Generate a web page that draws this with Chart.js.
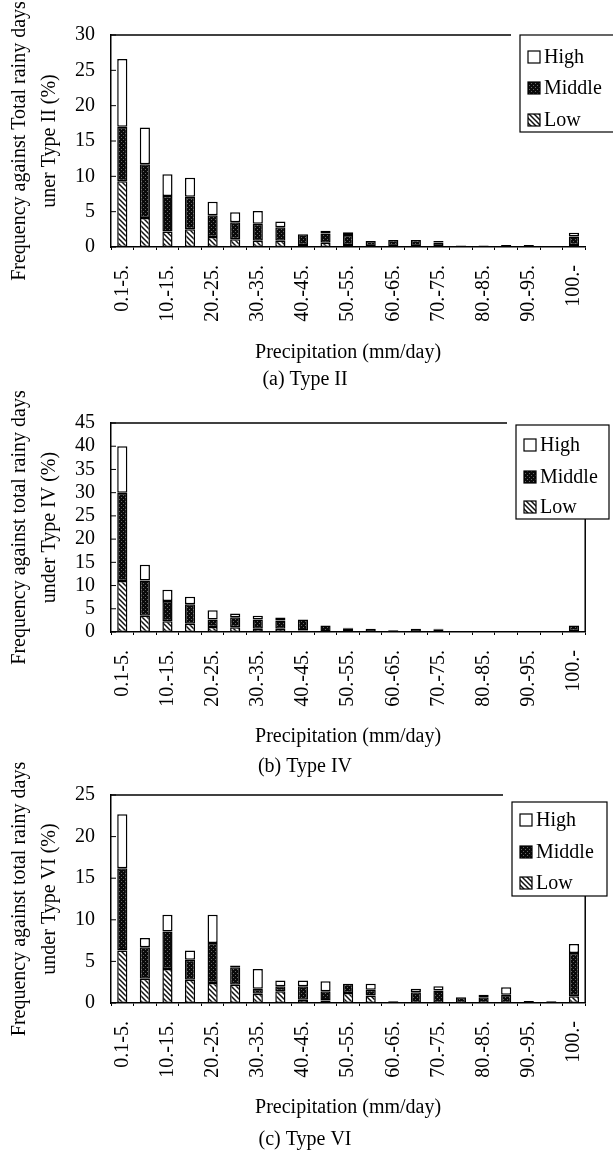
<!DOCTYPE html>
<html>
<head>
<meta charset="utf-8">
<script src="https://cdn.jsdelivr.net/npm/chart.js@4.4.1/dist/chart.umd.min.js"></script>
<style>
  body { margin: 0; background: #fff; }
  .painel { position: absolute; left: 0; }
</style>
</head>
<body>
<canvas id="chartA" class="painel" width="613" height="390" style="top:0px"></canvas>
<canvas id="chartB" class="painel" width="613" height="400" style="top:380px"></canvas>
<canvas id="chartC" class="painel" width="613" height="416" style="top:740px"></canvas>
<script>
// categorias de precipitação (mm/day)
const categorias = ['0.1-5.', '5.-10.', '10.-15.', '15.-20.', '20.-25.', '25.-30.', '30.-35.',
  '35.-40.', '40.-45.', '45.-50.', '50.-55.', '55.-60.', '60.-65.', '65.-70.', '70.-75.',
  '75.-80.', '80.-85.', '85.-90.', '90.-95.', '95.-100.', '100.-'];

// (a) Type II
const lowII  = [9.3, 4.1, 2.2, 2.5, 1.4, 1.1, 0.9, 0.9, 0.3, 0.6, 0.3, 0.1, 0.1, 0.1, 0.1, 0, 0, 0, 0, 0, 0.3];
const midII  = [7.7, 7.6, 5.0, 4.6, 3.1, 2.4, 2.4, 1.9, 1.5, 1.3, 1.4, 0.75, 0.9, 0.9, 0.55, 0.2, 0.2, 0.3, 0.3, 0.15, 1.2];
const highII = [9.6, 5.2, 3.1, 2.7, 1.9, 1.4, 1.8, 0.8, 0, 0.4, 0.4, 0, 0, 0, 0.2, 0, 0, 0, 0, 0, 0.5];

// (b) Type IV
const lowIV  = [11, 3.5, 2.3, 1.8, 1.1, 1.0, 0.7, 0.7, 0.3, 0.1, 0.1, 0, 0, 0, 0, 0, 0, 0, 0, 0, 0.2];
const midIV  = [19, 7.6, 4.4, 4.2, 1.6, 2.2, 2.0, 1.8, 2.4, 1.3, 0.6, 0.7, 0.4, 0.7, 0.6, 0.2, 0.15, 0.1, 0.15, 0.2, 1.2];
const highIV = [10, 3.4, 2.4, 1.6, 2.0, 0.8, 0.8, 0.6, 0, 0, 0.2, 0, 0, 0, 0.1, 0, 0, 0, 0, 0, 0];

// (c) Type VI
const lowVI  = [6.3, 2.9, 4.1, 2.8, 2.4, 2.2, 1.1, 1.4, 0.4, 0.3, 1.2, 0.9, 0, 0, 0, 0, 0, 0, 0, 0, 0.8];
const midVI  = [9.9, 3.8, 4.5, 2.4, 4.8, 2.1, 0.6, 0.6, 1.6, 1.1, 1.1, 0.7, 0.2, 1.3, 1.5, 0.7, 0.7, 1.0, 0.25, 0.2, 5.2];
const highVI = [6.5, 1.1, 2.0, 1.1, 3.4, 0.2, 2.4, 0.7, 0.7, 1.2, 0, 0.7, 0, 0.4, 0.5, 0, 0.3, 0.9, 0, 0, 1.1];

const FONTE = "'Liberation Serif', 'Times New Roman', serif";

// padrão hachurado (Low)
function padraoHachura(ctx) {
  const c = document.createElement('canvas');
  c.width = 5; c.height = 5;
  const g = c.getContext('2d');
  g.fillStyle = '#fff';
  g.fillRect(0, 0, 5, 5);
  g.strokeStyle = '#111';
  g.lineWidth = 1.5;
  g.beginPath();
  g.moveTo(0, 0); g.lineTo(5, 5);
  g.moveTo(-1, 4); g.lineTo(1, 6);
  g.moveTo(4, -1); g.lineTo(6, 1);
  g.stroke();
  return ctx.createPattern(c, 'repeat');
}

// padrão pontilhado escuro (Middle)
function padraoPontos(ctx) {
  const c = document.createElement('canvas');
  c.width = 4; c.height = 4;
  const g = c.getContext('2d');
  g.fillStyle = '#0a0a0a';
  g.fillRect(0, 0, 4, 4);
  g.fillStyle = '#666';
  g.fillRect(1, 1, 1, 1);
  g.fillRect(3, 3, 1, 1);
  return ctx.createPattern(c, 'repeat');
}

// legenda com moldura, bordas do gráfico e marcas internas do eixo y
const molduraPlugin = {
  id: 'moldura',
  afterDraw(chart, args, opts) {
    const ctx = chart.ctx;
    const area = chart.chartArea;
    ctx.save();
    ctx.strokeStyle = '#000';
    ctx.lineWidth = 1.5;
    // linha superior (termina antes da legenda)
    ctx.beginPath();
    ctx.moveTo(area.left, area.top);
    ctx.lineTo(opts.left - 9, area.top);
    ctx.stroke();
    // marcas do eixo y
    const y = chart.scales.y;
    ctx.lineWidth = 1;
    y.ticks.forEach((t, i) => {
      const py = y.getPixelForTick(i);
      ctx.beginPath();
      ctx.moveTo(area.left, py);
      ctx.lineTo(area.left + 5, py);
      ctx.stroke();
    });
    // borda direita
    if (opts.bordaDireita) {
      ctx.lineWidth = 1.5;
      ctx.beginPath();
      ctx.moveTo(area.right, opts.top + opts.h);
      ctx.lineTo(area.right, area.bottom);
      ctx.stroke();
    }
    // caixa da legenda
    ctx.fillStyle = '#fff';
    ctx.fillRect(opts.left, opts.top, opts.w, opts.h);
    ctx.lineWidth = 1.2;
    ctx.strokeRect(opts.left, opts.top, opts.w, opts.h);
    const itens = chart.data.datasets.slice().reverse();
    ctx.font = '20px ' + FONTE;
    ctx.textBaseline = 'middle';
    itens.forEach((ds, i) => {
      const cy = opts.top + opts.linhas[i];
      ctx.fillStyle = ds.backgroundColor;
      ctx.fillRect(opts.left + 8, cy - 6, 12, 12);
      ctx.lineWidth = 1.2;
      ctx.strokeStyle = '#000';
      ctx.strokeRect(opts.left + 8, cy - 6, 12, 12);
      ctx.fillStyle = '#000';
      ctx.fillText(ds.label, opts.left + 24, cy + 1);
    });
    ctx.restore();
  }
};

function criarGrafico(id, low, mid, high, yMax, yTitulo, legenda, geo) {
  const canvas = document.getElementById(id);
  const ctx = canvas.getContext('2d');
  const estilo = { borderColor: '#000', borderWidth: 1.5, borderSkipped: false,
                   barPercentage: 0.45, categoryPercentage: 1.0 };
  return new Chart(ctx, {
    type: 'bar',
    data: {
      labels: categorias,
      datasets: [
        Object.assign({ label: 'Low', data: low, backgroundColor: padraoHachura(ctx) }, estilo),
        Object.assign({ label: 'Middle', data: mid, backgroundColor: padraoPontos(ctx) }, estilo),
        Object.assign({ label: 'High', data: high, backgroundColor: '#fff' }, estilo)
      ]
    },
    options: {
      responsive: false,
      animation: false,
      layout: { padding: { top: geo.top, right: 3, left: 0, bottom: 0 } },
      scales: {
        x: {
          stacked: true,
          grid: { drawOnChartArea: false, tickLength: 3, color: '#000' },
          border: { display: true, color: '#000', width: 1.5 },
          ticks: {
            autoSkip: false,
            minRotation: 90,
            maxRotation: 90,
            padding: 15,
            color: '#000',
            font: { family: FONTE, size: 20 },
            callback: function(valor, indice) {
              return indice % 2 === 0 ? categorias[indice] : '';
            }
          },
          title: {
            display: true,
            text: 'Precipitation (mm/day)',
            color: '#000',
            font: { family: FONTE, size: 20, lineHeight: 1.0 },
            padding: { top: 0, bottom: geo.xPad }
          },
          afterFit: function(scale) { scale.height = geo.xAltura; }
        },
        y: {
          stacked: true,
          min: 0,
          max: yMax,
          grid: { display: false, drawTicks: false },
          border: { display: true, color: '#000', width: 1.5 },
          ticks: {
            stepSize: 5,
            autoSkip: false,
            padding: 16,
            color: '#000',
            font: { family: FONTE, size: 20 }
          },
          title: {
            display: true,
            text: yTitulo,
            color: '#000',
            font: { family: FONTE, size: 20, lineHeight: 1.5 },
            padding: { top: 5, bottom: 0 }
          },
          afterFit: function(scale) { scale.width = 111; }
        }
      },
      plugins: {
        legend: { display: false },
        tooltip: { enabled: false },
        title: {
          display: true,
          position: 'bottom',
          text: legenda,
          color: '#000',
          font: { family: FONTE, size: 20, weight: 'normal', lineHeight: 1.0 },
          padding: { top: 0, bottom: geo.capPad }
        },
        moldura: geo.legenda
      }
    },
    plugins: [molduraPlugin]
  });
}

criarGrafico('chartA', lowII, midII, highII, 30,
  ['Frequency against Total rainy days', 'uner Type II (%)'], '(a) Type II',
  { top: 35, xAltura: 123, xPad: 7, capPad: 0,
    legenda: { left: 520, top: 35, w: 95, h: 97, linhas: [22, 53, 85], bordaDireita: false } });

criarGrafico('chartB', lowIV, midIV, highIV, 45,
  ['Frequency against total rainy days', 'under Type IV (%)'], '(b) Type IV',
  { top: 43, xAltura: 125, xPad: 10, capPad: 3,
    legenda: { left: 516, top: 45, w: 93, h: 94, linhas: [20, 52, 82], bordaDireita: true } });

criarGrafico('chartC', lowVI, midVI, highVI, 25,
  ['Frequency against total rainy days', 'under Type VI (%)'], '(c) Type VI',
  { top: 55, xAltura: 127, xPad: 12, capPad: 6,
    legenda: { left: 512, top: 62, w: 95, h: 94, linhas: [18, 50, 81], bordaDireita: true } });
</script>
</body>
</html>
